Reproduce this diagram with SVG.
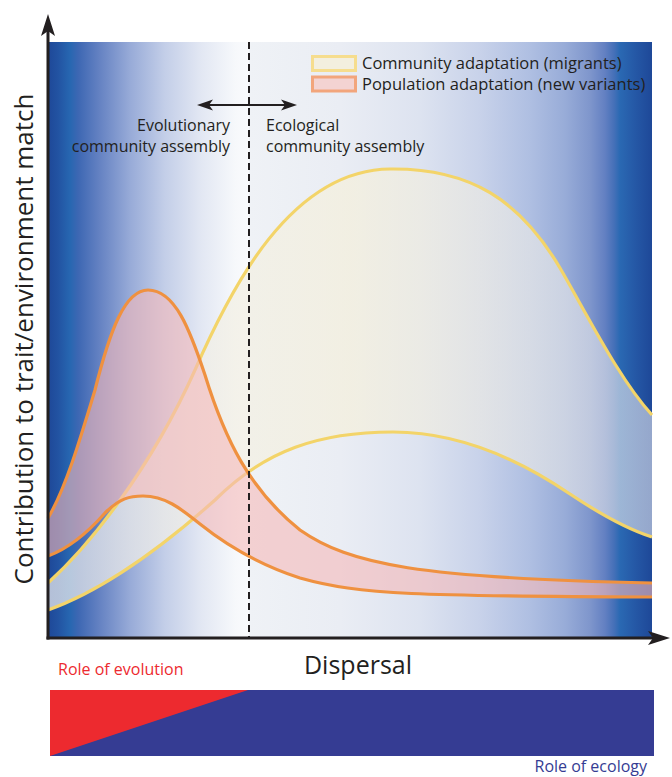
<svg xmlns="http://www.w3.org/2000/svg" width="672" height="777" viewBox="0 0 672 777">
<style>
.ax{stroke:#231f20;stroke-width:3;fill:none}
.ah{fill:#231f20}
.txt{font-family:"Open Sans","Noto Sans","Liberation Sans",sans-serif;fill:#231f20}
.yl{stroke:#f3d469;stroke-width:3.2;fill:none}
.or{stroke:#ef9140;stroke-width:3.2;fill:none}
</style>
<defs>
<linearGradient id="bgL" gradientUnits="userSpaceOnUse" x1="48" y1="0" x2="249" y2="0">
<stop offset="0" stop-color="#1e4898"/>
<stop offset="0.05" stop-color="#2253a2"/>
<stop offset="0.11" stop-color="#2767b1"/>
<stop offset="0.15" stop-color="#3d67b3"/>
<stop offset="0.26" stop-color="#6683c3"/>
<stop offset="0.41" stop-color="#98abd8"/>
<stop offset="0.58" stop-color="#c3cee8"/>
<stop offset="0.76" stop-color="#e2e7f3"/>
<stop offset="0.93" stop-color="#f6f8fb"/>
<stop offset="1" stop-color="#fafbfd"/>
</linearGradient>
<linearGradient id="bgR" gradientUnits="userSpaceOnUse" x1="249" y1="0" x2="652" y2="0">
<stop offset="0" stop-color="#eff2f6"/>
<stop offset="0.226" stop-color="#eaedf4"/>
<stop offset="0.424" stop-color="#dde3f0"/>
<stop offset="0.573" stop-color="#c8d2ea"/>
<stop offset="0.697" stop-color="#afbfe2"/>
<stop offset="0.784" stop-color="#98acd8"/>
<stop offset="0.846" stop-color="#7f96cc"/>
<stop offset="0.883" stop-color="#6380c2"/>
<stop offset="0.906" stop-color="#4570b8"/>
<stop offset="0.92" stop-color="#2a69b3"/>
<stop offset="0.958" stop-color="#2558a6"/>
<stop offset="1" stop-color="#1e4898"/>
</linearGradient>
<linearGradient id="yfill" gradientUnits="userSpaceOnUse" x1="48" y1="0" x2="652" y2="0">
<stop offset="0" stop-color="#eeeef0" stop-opacity="0.72"/>
<stop offset="0.5" stop-color="#f5f0dc" stop-opacity="0.72"/>
<stop offset="1" stop-color="#e4e6ee" stop-opacity="0.6"/>
</linearGradient>
</defs>

<g id="background">
<rect x="48" y="42" width="201" height="596" fill="url(#bgL)"/>
<rect x="249" y="42" width="403" height="596" fill="url(#bgR)"/>
</g>

<g id="community-adaptation">
<path fill="url(#yfill)" d="M48,583 C90,545 150,470 195,370 C230,290 290,170 390,169 C470,168 520,200 560,268 C590,320 620,380 652,415 L652,537 C630,530 600,514 570,494 C520,460 460,432 393,432 C320,432 265,450 215,500 C170,540 110,588 48,610 Z"/>
<path class="yl" d="M48,583 C90,545 150,470 195,370 C230,290 290,170 390,169 C470,168 520,200 560,268 C590,320 620,380 652,415"/>
<path class="yl" d="M48,610 C110,588 170,540 215,500 C265,450 320,432 393,432 C460,432 520,460 570,494 C600,514 630,530 652,537"/>
</g>

<g id="population-adaptation">
<path fill="#f5b9b9" fill-opacity="0.6" d="M48,518 C65,490 80,440 95,390 C110,330 125,290 148,290 C175,290 190,330 205,375 C225,440 250,490 300,530 C350,565 420,578 652,583 L652,597 C420,596 360,595 300,578 C260,565 230,548 200,524 C180,508 165,496 143,496 C130,496 120,498 105,513 C90,530 70,548 48,556 Z"/>
<path class="or" d="M48,518 C65,490 80,440 95,390 C110,330 125,290 148,290 C175,290 190,330 205,375 C225,440 250,490 300,530 C350,565 420,578 652,583"/>
<path class="or" d="M48,556 C70,548 90,530 105,513 C120,498 130,496 143,496 C165,496 180,508 200,524 C230,548 260,565 300,578 C360,595 420,596 652,597"/>
</g>

<g id="divider">
<line x1="249" y1="42" x2="249" y2="638" stroke="#231f20" stroke-width="2" stroke-dasharray="7,4"/>
</g>

<g id="axes">
<line class="ax" x1="48" y1="30" x2="48" y2="639.5"/>
<line class="ax" x1="46.5" y1="638" x2="656" y2="638"/>
<polygon class="ah" points="48,14 55,36 48,31 41,36"/>
<polygon class="ah" points="670,638 648,645 653,638 648,631"/>
</g>

<g id="assembly-arrow">
<line x1="206" y1="105" x2="288" y2="105" stroke="#231f20" stroke-width="2"/>
<polygon class="ah" points="197,105 213,99.5 209,105 213,110.5"/>
<polygon class="ah" points="297,105 281,99.5 285,105 281,110.5"/>
</g>

<g id="labels">
<text class="txt" x="230" y="131" font-size="16" text-anchor="end">Evolutionary</text>
<text class="txt" x="230" y="152" font-size="16" text-anchor="end">community assembly</text>
<text class="txt" x="266" y="131" font-size="16">Ecological</text>
<text class="txt" x="266" y="152" font-size="16">community assembly</text>
<text class="txt" font-size="26" transform="translate(33,339) rotate(-90)" text-anchor="middle">Contribution to trait/environment match</text>
<text class="txt" x="358" y="674" font-size="25" text-anchor="middle">Dispersal</text>
</g>

<g id="legend">
<rect x="312.5" y="56.5" width="43" height="14" fill="#f3efdf" stroke="#f6dd8e" stroke-width="3"/>
<rect x="312.5" y="77" width="43" height="14" fill="#f3d3d2" stroke="#f2a57c" stroke-width="3"/>
<text class="txt" x="362" y="69" font-size="16.5">Community adaptation (migrants)</text>
<text class="txt" x="362" y="90" font-size="16.5">Population adaptation (new variants)</text>
</g>

<g id="roles">
<rect x="50" y="690" width="604" height="66" fill="#353c93"/>
<polygon points="50,690 248,690 50,756" fill="#ed2a2f"/>
<text x="58" y="675" font-size="16" font-family="Open Sans,Noto Sans,Liberation Sans,sans-serif" fill="#ed2a2f">Role of evolution</text>
<text x="647" y="772" font-size="16" text-anchor="end" font-family="Open Sans,Noto Sans,Liberation Sans,sans-serif" fill="#353c93">Role of ecology</text>
</g>
</svg>
